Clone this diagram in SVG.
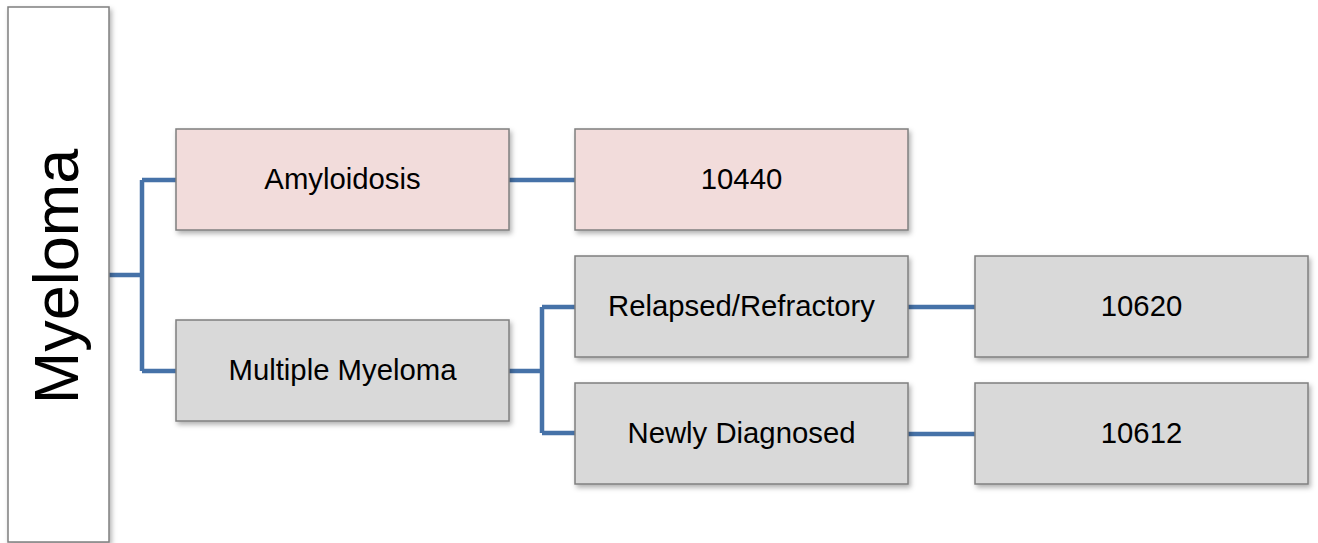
<svg xmlns="http://www.w3.org/2000/svg" width="1318" height="543" viewBox="0 0 1318 543">
  <defs>
    <filter id="sh" x="-10%" y="-10%" width="130%" height="130%">
      <feDropShadow dx="2" dy="3" stdDeviation="2.5" flood-color="#000" flood-opacity="0.3"/>
    </filter>
    <style>
      .box { stroke: #7f7f7f; stroke-width: 1.5; filter: url(#sh); }
      .pink { fill: #f2dcdb; }
      .gray { fill: #d9d9d9; }
      .white { fill: #ffffff; }
      .lbl { font-family: "Liberation Sans", Arial, sans-serif; font-size: 29.3px; fill: #000; text-anchor: middle; }
      .conn { fill: none; stroke: #4672a8; stroke-width: 4.5; stroke-linejoin: round; }
    </style>
  </defs>
  <rect width="1318" height="543" fill="#ffffff"/>

  <g id="connectors">
    <path class="conn" d="M109,275 H142 M142,180 V371 M142,180 H176 M142,371 H176"/>
    <path class="conn" d="M509,180 H575"/>
    <path class="conn" d="M509,371 H542 M542,307 V433 M542,307 H575 M542,433 H575"/>
    <path class="conn" d="M908,307 H975"/>
    <path class="conn" d="M908,434 H975"/>
  </g>

  <g id="node-myeloma">
    <rect class="box white" x="8" y="7" width="101" height="535"/>
    <text class="lbl" style="font-size:63px" transform="translate(78,276.5) rotate(-90)" x="0" y="0">Myeloma</text>
  </g>

  <g id="node-amyloidosis">
    <rect class="box pink" x="176" y="129" width="333" height="101"/>
    <text class="lbl" x="342.5" y="189">Amyloidosis</text>
  </g>

  <g id="node-10440">
    <rect class="box pink" x="575" y="129" width="333" height="101"/>
    <text class="lbl" x="741.5" y="189">10440</text>
  </g>

  <g id="node-multiple-myeloma">
    <rect class="box gray" x="176" y="320" width="333" height="101"/>
    <text class="lbl" x="342.5" y="380">Multiple Myeloma</text>
  </g>

  <g id="node-relapsed">
    <rect class="box gray" x="575" y="256" width="333" height="101"/>
    <text class="lbl" x="741.5" y="316">Relapsed/Refractory</text>
  </g>

  <g id="node-newly">
    <rect class="box gray" x="575" y="383" width="333" height="101"/>
    <text class="lbl" x="741.5" y="443">Newly Diagnosed</text>
  </g>

  <g id="node-10620">
    <rect class="box gray" x="975" y="256" width="333" height="101"/>
    <text class="lbl" x="1141.5" y="316">10620</text>
  </g>

  <g id="node-10612">
    <rect class="box gray" x="975" y="383" width="333" height="101"/>
    <text class="lbl" x="1141.5" y="443">10612</text>
  </g>
</svg>
